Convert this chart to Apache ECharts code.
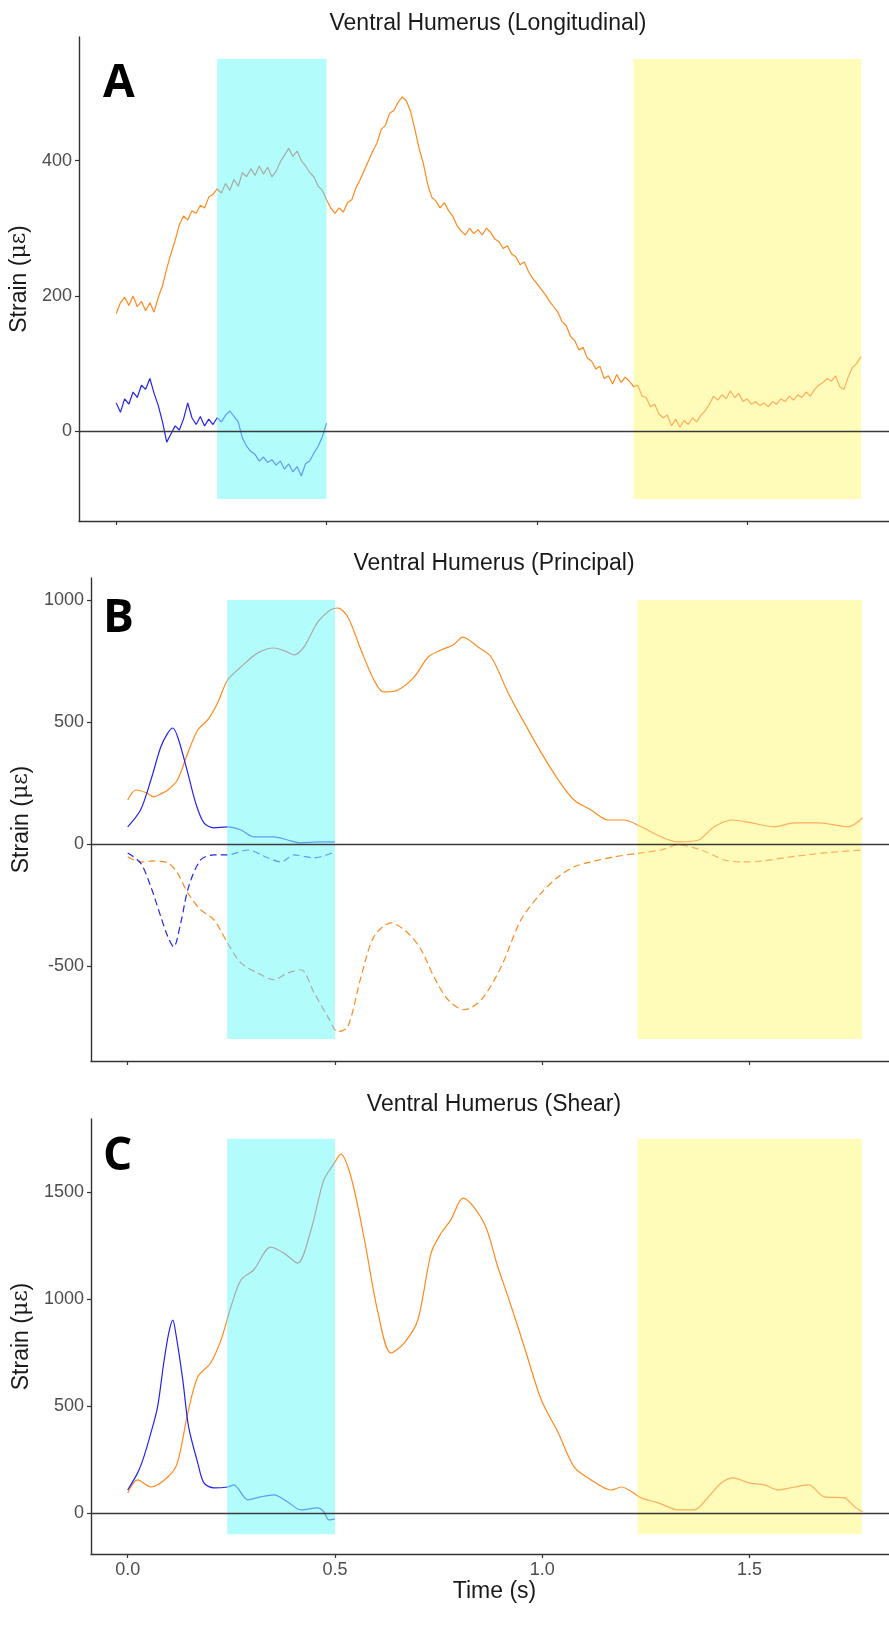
<!DOCTYPE html>
<html>
<head>
<meta charset="utf-8">
<title>Ventral Humerus strain</title>
<script src="https://cdn.jsdelivr.net/npm/echarts@6.0.0/dist/echarts.min.js"></script>
<style>
  html, body { margin: 0; padding: 0; background: #fff; }
  #main { width: 889px; height: 1630px; }
</style>
</head>
<body>
<div id="main"></div>
<script>
// ---- data ----
var timeTicks = [0, 0.5, 1.0, 1.5];
var cyanSpan = [0.24, 0.5];
var yellowSpan = [1.23, 1.771];

// panel A, sampled every 0.01 s
var dtA = 0.01;
var longOrange = [
  174, 190, 198, 186, 200, 184, 192, 178, 190, 176,
  198, 215, 240, 262, 282, 305, 318, 312, 326, 322,
  334, 330, 346, 350, 358, 352, 366, 356, 372, 362,
  382, 376, 388, 378, 392, 380, 390, 376, 384, 398,
  408, 418, 406, 414, 400, 392, 382, 376, 362, 356,
  342, 330, 322, 330, 324, 338, 342, 360, 372, 386,
  400, 414, 426, 446, 452, 470, 474, 486, 494, 488,
  472, 446, 418, 396, 366, 346, 340, 330, 338, 326,
  318, 304, 296, 290, 300, 292, 298, 290, 300, 294,
  284, 280, 270, 274, 262, 258, 246, 250, 236, 226,
  218, 210, 202, 192, 184, 176, 162, 156, 140, 134,
  120, 124, 108, 104, 92, 96, 78, 82, 70, 84,
  72, 80, 74, 66, 68, 52, 50, 36, 40, 26,
  20, 24, 8, 18, 6, 16, 10, 20, 14, 24,
  30, 40, 52, 46, 54, 48, 60, 50, 56, 44,
  48, 40, 44, 38, 42, 36, 44, 40, 48, 44,
  52, 46, 54, 50, 58, 52, 62, 68, 72, 78,
  74, 82, 66, 62, 80, 94, 100, 110
];
var longBlue = [
  42, 28, 48, 40, 58, 50, 68, 62, 78, 56,
  38, 14, -16, -4, 8, 2, 18, 42, 20, 10,
  22, 8, 18, 10, 20, 14, 24, 30, 22, 14,
  -10, -22, -30, -34, -44, -38, -46, -42, -50, -44,
  -56, -48, -60, -52, -66, -48, -44, -32, -22, -8,
  12
];

// panel B (time, strain)
var princMaxOrange = [[0,180],[0.02,221],[0.046,209],[0.063,193],[0.08,205],[0.097,221],[0.12,262],[0.145,373],[0.169,467],[0.193,508],[0.217,578],[0.241,672],[0.273,725],[0.314,783],[0.353,803],[0.38,790],[0.401,775],[0.425,807],[0.459,910],[0.49,960],[0.507,967],[0.531,930],[0.563,795],[0.594,672],[0.618,623],[0.652,631],[0.691,684],[0.725,766],[0.756,795],[0.785,815],[0.809,848],[0.845,807],[0.877,766],[0.918,619],[0.957,496],[0.998,373],[1.039,262],[1.077,180],[1.118,139],[1.159,98],[1.198,98],[1.239,70],[1.287,29],[1.328,8],[1.377,16],[1.415,70],[1.457,98],[1.505,86],[1.56,70],[1.609,86],[1.667,86],[1.739,70],[1.773,107]];
var princMinOrange = [[0,-53],[0.031,-74],[0.063,-70],[0.097,-78],[0.12,-119],[0.145,-201],[0.176,-270],[0.208,-311],[0.241,-406],[0.273,-488],[0.314,-529],[0.353,-557],[0.386,-529],[0.418,-516],[0.45,-611],[0.483,-709],[0.507,-770],[0.531,-750],[0.563,-545],[0.594,-381],[0.635,-324],[0.676,-365],[0.708,-434],[0.739,-545],[0.773,-639],[0.812,-680],[0.853,-639],[0.901,-504],[0.949,-311],[0.998,-201],[1.039,-135],[1.077,-94],[1.118,-74],[1.174,-53],[1.239,-37],[1.287,-25],[1.328,-4],[1.384,-25],[1.44,-66],[1.481,-74],[1.53,-70],[1.601,-53],[1.681,-37],[1.773,-25]];
var princMaxBlue = [[0,70],[0.031,139],[0.056,262],[0.08,398],[0.097,455],[0.109,475],[0.123,426],[0.145,291],[0.164,168],[0.184,86],[0.208,66],[0.241,70],[0.273,57],[0.304,29],[0.353,29],[0.386,16],[0.418,4],[0.459,8],[0.5,8]];
var princMinBlue = [[0,-37],[0.031,-78],[0.056,-176],[0.08,-299],[0.097,-381],[0.111,-422],[0.128,-324],[0.147,-176],[0.176,-66],[0.208,-45],[0.241,-45],[0.29,-25],[0.338,-57],[0.37,-74],[0.401,-45],[0.45,-57],[0.5,-33]];

// panel C (time, strain)
var shearOrange = [[0,93],[0.024,154],[0.056,121],[0.097,168],[0.12,234],[0.145,467],[0.169,636],[0.2,701],[0.225,808],[0.249,963],[0.273,1089],[0.304,1136],[0.345,1243],[0.377,1215],[0.41,1168],[0.442,1322],[0.473,1556],[0.498,1635],[0.514,1678],[0.539,1570],[0.57,1290],[0.604,935],[0.635,748],[0.667,794],[0.7,902],[0.732,1215],[0.756,1308],[0.78,1372],[0.809,1472],[0.86,1355],[0.893,1150],[0.918,1009],[0.957,776],[0.998,528],[1.039,374],[1.077,215],[1.118,154],[1.167,107],[1.191,121],[1.239,70],[1.28,47],[1.328,14],[1.367,14],[1.401,75],[1.432,140],[1.461,164],[1.498,140],[1.536,131],[1.57,107],[1.609,121],[1.643,131],[1.681,75],[1.729,70],[1.754,28],[1.773,5]];
var shearBlue = [[0,107],[0.024,187],[0.039,262],[0.056,374],[0.072,495],[0.087,701],[0.099,841],[0.109,902],[0.116,841],[0.133,621],[0.147,402],[0.169,234],[0.184,140],[0.208,117],[0.241,121],[0.256,131],[0.29,61],[0.321,75],[0.353,84],[0.386,51],[0.418,14],[0.459,23],[0.473,5],[0.486,-33],[0.5,-28]];

// y ranges and ticks per panel
var panelTitles = ['Ventral Humerus (Longitudinal)', 'Ventral Humerus (Principal)', 'Ventral Humerus (Shear)'];
var panelLetters = ['A', 'B', 'C'];
var yRanges = [[-132.5, 582.5], [-890, 1090], [-192.5, 1842.5]];
var yTicks = [[0, 200, 400], [-500, 0, 500, 1000], [0, 500, 1000, 1500]];
var rectY = [[-100, 550], [-800, 1000], [-100, 1750]];

var AXIS_COLOR = '#333333';
var LABEL_COLOR = '#4d4d4d';
var FONT = '"Liberation Sans", Arial, sans-serif';

function seq(values, dt) {
  return values.map(function (v, i) { return [+(i * dt).toFixed(3), v]; });
}

var grids = [
  { left: 79, top: 37, width: 819, height: 484 },
  { left: 91, top: 578, width: 807, height: 483 },
  { left: 91, top: 1119, width: 807, height: 435 }
];

var xAxes = [], yAxes = [];
for (var i = 0; i < 3; i++) {
  var last = i === 2;
  xAxes.push({
    gridIndex: i, type: 'value', min: -0.0885, max: 1.8585,
    axisLine: { onZero: false, lineStyle: { color: AXIS_COLOR, width: 1.4 } },
    axisTick: { show: true, length: 4, customValues: timeTicks, lineStyle: { color: AXIS_COLOR, width: 1.2 } },
    axisLabel: {
      show: last, customValues: timeTicks, margin: 7, color: LABEL_COLOR, fontSize: 18, fontFamily: FONT,
      formatter: function (v) { return v.toFixed(1); }
    },
    splitLine: { show: false },
    name: last ? 'Time (s)' : '', nameLocation: 'middle', nameGap: 22,
    nameTextStyle: { color: '#1a1a1a', fontSize: 23, fontFamily: FONT, verticalAlign: 'top' }
  });
  yAxes.push({
    gridIndex: i, type: 'value', min: yRanges[i][0], max: yRanges[i][1],
    axisLine: { show: true, onZero: false, lineStyle: { color: AXIS_COLOR, width: 1.4 } },
    axisTick: { show: true, length: 4, customValues: yTicks[i], lineStyle: { color: AXIS_COLOR, width: 1.2 } },
    axisLabel: {
      customValues: yTicks[i], margin: 7, color: LABEL_COLOR, fontSize: 18, fontFamily: FONT,
      formatter: function (v) { return String(v); }
    },
    splitLine: { show: false },
    name: '{a|Strain (}{b|\u03bc\u03b5}{a|)}', nameLocation: 'middle', nameGap: i === 0 ? 46 : 58,
    nameTextStyle: {
      rich: {
        a: { fontSize: 23, fontFamily: FONT, color: '#1a1a1a' },
        b: { fontSize: 22, fontFamily: '"DejaVu Serif", serif', color: '#1a1a1a' }
      }
    }
  });
}

// shaded periods, drawn first
function rectSeries(i) {
  return {
    type: 'custom', xAxisIndex: i, yAxisIndex: i, z: 1, silent: true,
    encode: { x: [0, 1], y: [2, 3] },
    renderItem: function (params, api) {
      var p0 = api.coord([api.value(0), api.value(3)]);
      var p1 = api.coord([api.value(1), api.value(2)]);
      return {
        type: 'rect',
        shape: { x: p0[0], y: p0[1], width: p1[0] - p0[0], height: p1[1] - p0[1] },
        style: { fill: api.visual('color') }
      };
    },
    data: [
      { value: [cyanSpan[0], cyanSpan[1], rectY[i][0], rectY[i][1]], itemStyle: { color: '#b3fcfc' } },
      { value: [yellowSpan[0], yellowSpan[1], rectY[i][0], rectY[i][1]], itemStyle: { color: '#fffbb8' } }
    ]
  };
}

var zeroLine = {
  silent: true, symbol: 'none', label: { show: false },
  lineStyle: { color: '#3a3a3a', width: 1.3, type: 'solid' },
  data: [{ yAxis: 0 }]
};

function lineSeries(i, data, dashed, withZero) {
  var s = {
    type: 'line', xAxisIndex: i, yAxisIndex: i, z: 3,
    showSymbol: false, symbol: 'none', smooth: i === 0 ? false : 0.3,
    lineStyle: { width: 1.2, type: dashed ? [7, 4] : 'solid' },
    data: data
  };
  if (withZero) s.markLine = zeroLine;
  return s;
}

var series = [
  rectSeries(0), rectSeries(1), rectSeries(2),
  lineSeries(0, seq(longOrange, dtA), false, true),   // 3
  lineSeries(0, seq(longBlue, dtA), false, false),    // 4
  lineSeries(1, princMaxOrange, false, true),         // 5
  lineSeries(1, princMinOrange, true, false),         // 6
  lineSeries(1, princMaxBlue, false, false),          // 7
  lineSeries(1, princMinBlue, true, false),           // 8
  lineSeries(2, shearOrange, false, true),            // 9
  lineSeries(2, shearBlue, false, false)              // 10
];

// panel titles and letters
var graphics = [];
var titleX = [488, 494, 494];
var titleY = [24, 564, 1105];
var letterY = [84, 619, 1157];
for (var k = 0; k < 3; k++) {
  graphics.push({
    type: 'text', x: titleX[k], y: titleY[k], silent: true,
    style: { text: panelTitles[k], fill: '#1a1a1a', font: '23px ' + FONT, align: 'center', verticalAlign: 'middle', textAlign: 'center', textVerticalAlign: 'middle' }
  });
  graphics.push({
    type: 'text', x: 103, y: letterY[k], silent: true, z: 10,
    style: { text: panelLetters[k], fill: '#000', font: 'bold 46px "Open Sans", sans-serif', align: 'left', verticalAlign: 'middle', textAlign: 'left', textVerticalAlign: 'middle' }
  });
}

var chart = echarts.init(document.getElementById('main'), null, { renderer: 'canvas' });
chart.setOption({
  animation: false,
  backgroundColor: '#ffffff',
  textStyle: { fontFamily: FONT },
  grid: grids.map(function (g) { return Object.assign({ outerBoundsMode: 'none' }, g); }),
  xAxis: xAxes,
  yAxis: yAxes,
  // colour of the traces changes where the shaded periods cover them
  visualMap: [
    {
      type: 'piecewise', show: false, dimension: 0, seriesIndex: [3, 5, 6, 9],
      pieces: [
        { gte: cyanSpan[0], lte: cyanSpan[1], color: '#a9aba6' },
        { gte: yellowSpan[0], lte: 1.78, color: '#ffad5e' }
      ],
      outOfRange: { color: '#ff8a1c' }
    },
    {
      type: 'piecewise', show: false, dimension: 0, seriesIndex: [4, 7, 8, 10],
      pieces: [{ gte: cyanSpan[0], lte: cyanSpan[1], color: '#5c9cf6' }],
      outOfRange: { color: '#2323ee' }
    }
  ],
  graphic: graphics,
  series: series
});
</script>
</body>
</html>
